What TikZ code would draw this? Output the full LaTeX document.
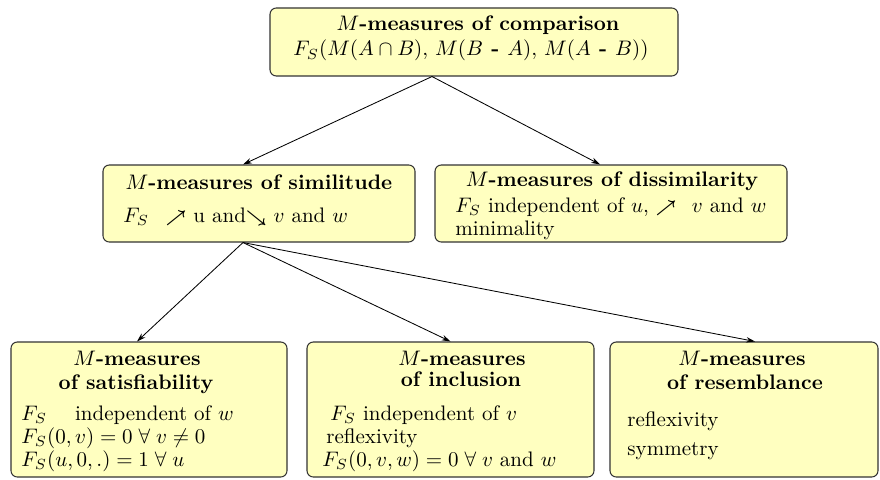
\documentclass[tikz,border=0pt]{standalone}
\usetikzlibrary{arrows.meta}
\definecolor{boxyellow}{RGB}{255,255,192}
\newcommand\pxu{0.476pt}
\newcommand\bmin{\mathbin{\mbox{\bfseries -}}}
\newcommand\smne{\mbox{\footnotesize\boldmath$\nearrow$}}
\newcommand\smse{\mbox{\footnotesize\boldmath$\searrow$}}
\begin{document}
\begin{tikzpicture}[x=\pxu,y=-\pxu,
  box/.style={draw=black!80, fill=boxyellow, rounded corners=3pt, line width=0.5pt, inner sep=0pt},
  conn/.style={-{Stealth[length=4.2pt,width=2.6pt]}, line width=0.4pt},
  ttl/.style={font=\bfseries, inner sep=0pt, anchor=base},
  bdy/.style={inner sep=0pt, anchor=base west}]
\fill[white] (0,0) rectangle (880,479);
\useasboundingbox (0,0) rectangle (880,479);
% boxes
\node[box, minimum width=408*\pxu, minimum height=68*\pxu] (top) at (474,42) {};
\node[box, minimum width=312*\pxu, minimum height=77*\pxu] (sim) at (259,203.5) {};
\node[box, minimum width=352*\pxu, minimum height=77*\pxu] (dis) at (611,203.5) {};
\node[box, minimum width=276*\pxu, minimum height=135*\pxu] (sat) at (149,409.5) {};
\node[box, minimum width=287*\pxu, minimum height=135*\pxu] (inc) at (450.5,409.5) {};
\node[box, minimum width=268*\pxu, minimum height=135*\pxu] (res) at (744,409.5) {};
% texts: top
\node[ttl] (topt1) at (478,31) {$M$-measures of comparison};
\node[ttl] (topt2) at (471,56) {$F_S(M(A\cap B),\,M(B\mathbin{\,\mbox{\bfseries -}\,}A),\,M(A\mathbin{\,\mbox{\bfseries -}\,}B))$};
% similitude
\node[ttl] (simt) at (259,189) {$M$-measures of similitude};
\node[bdy] (simb) at (123,222) {$F_S$\hspace{8pt}\smne\ u and\smse\ $v$ and $w$};
% dissimilarity
\node[ttl] (dist) at (612,186) {$M$-measures of dissimilarity};
\node[bdy] (disb1) at (455,212) {$F_S$ independent of $u$, \smne\hspace{4pt} $v$ and $w$};
\node[bdy] (disb2) at (455,235) {minimality};
% satisfiability
\node[ttl] (satt1) at (137,365) {$M$-measures};
\node[ttl] (satt2) at (136,389) {of satisfiability};
\node[bdy] (satb1) at (21,420) {$F_S$\quad\ independent of $w$};
\node[bdy] (satb2) at (21,443) {$F_S(0,v)=0\;\forall\;v\neq 0$};
\node[bdy] (satb3) at (21,466) {$F_S(u,0,.)=1\;\forall\;u$};
% inclusion
\node[ttl] (inct1) at (462,365) {$M$-measures};
\node[ttl] (inct2) at (461,386) {of inclusion};
\node[bdy] (incb1) at (330,420) {$F_S$ independent of $v$};
\node[bdy] (incb2) at (326,443) {reflexivity};
\node[bdy] (incb3) at (322,466) {$F_S(0,v,w)=0\;\forall\;v$ and $w$};
% resemblance
\node[ttl] (rest1) at (742,365) {$M$-measures};
\node[ttl] (rest2) at (745,389) {of resemblance};
\node[bdy] (resb1) at (627,426) {reflexivity};
\node[bdy] (resb2) at (627,455) {symmetry};
% connectors
\draw[conn] ([xshift=-42*\pxu]top.south) -- ([xshift=-16*\pxu]sim.north);
\draw[conn] ([xshift=-42*\pxu]top.south) -- ([xshift=-11*\pxu]dis.north);
\draw[conn] ([xshift=-16*\pxu]sim.south) -- ([xshift=-12*\pxu]sat.north);
\draw[conn] ([xshift=-16*\pxu]sim.south) -- (inc.north);
\draw[conn] ([xshift=-16*\pxu]sim.south) -- ([xshift=11*\pxu]res.north);
\end{tikzpicture}
\end{document}
